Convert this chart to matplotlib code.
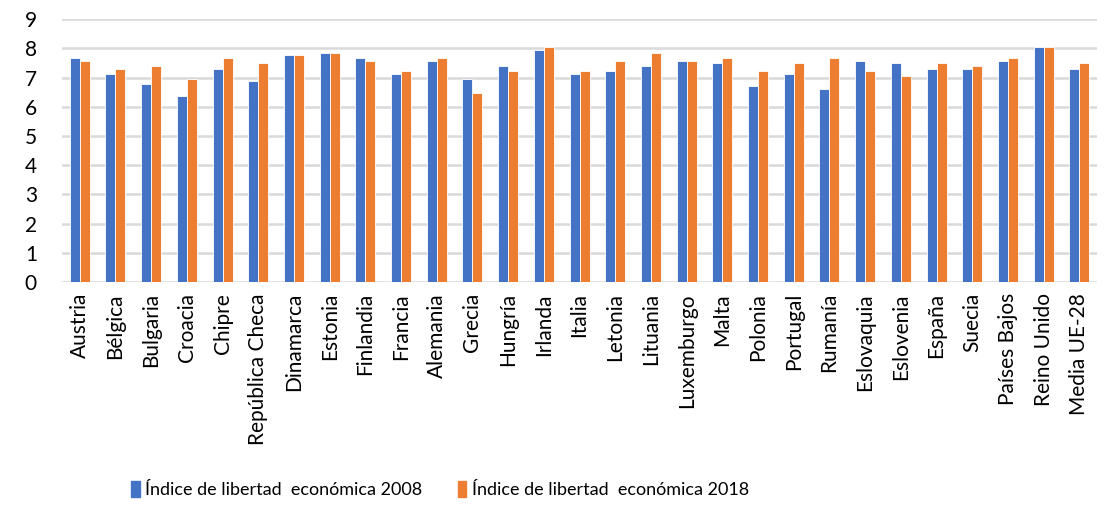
import numpy as np
import matplotlib.pyplot as plt
from matplotlib.patches import Patch

plt.rcParams['font.family'] = ['Lato', 'DejaVu Sans']

paises = ['Austria', 'Bélgica', 'Bulgaria', 'Croacia', 'Chipre', 'República Checa',
          'Dinamarca', 'Estonia', 'Finlandia', 'Francia', 'Alemania', 'Grecia',
          'Hungría', 'Irlanda', 'Italia', 'Letonia', 'Lituania', 'Luxemburgo',
          'Malta', 'Polonia', 'Portugal', 'Rumanía', 'Eslovaquia', 'Eslovenia',
          'España', 'Suecia', 'Países Bajos', 'Reino Unido', 'Media UE-28']
indice_2008 = [7.67, 7.13, 6.78, 6.37, 7.31, 6.87, 7.76, 7.85, 7.67, 7.13, 7.58, 6.95,
               7.40, 7.94, 7.13, 7.21, 7.40, 7.58, 7.49, 6.70, 7.13, 6.62, 7.58, 7.49,
               7.31, 7.31, 7.58, 8.04, 7.31]
indice_2018 = [7.58, 7.31, 7.40, 6.95, 7.67, 7.49, 7.76, 7.85, 7.58, 7.21, 7.67, 6.46,
               7.21, 8.04, 7.21, 7.58, 7.85, 7.58, 7.67, 7.21, 7.49, 7.67, 7.21, 7.04,
               7.49, 7.40, 7.67, 8.04, 7.49]
etiquetas = ['Índice de libertad  económica 2008', 'Índice de libertad  económica 2018']
azul = '#4472c4'
naranja = '#ed7d31'

fig = plt.figure(figsize=(11.06, 5.07), dpi=100)
ax = fig.add_axes([0.056, 0.444, 0.936, 0.518])

x = np.arange(len(paises))
w = 0.28
ax.bar(x - w / 2, indice_2008, w, color=azul, edgecolor='white', linewidth=0.6, zorder=3)
ax.bar(x + w / 2, indice_2018, w, color=naranja, edgecolor='white', linewidth=0.6, zorder=3)

ax.set_xlim(-0.5, len(paises) - 0.5)
ax.set_ylim(0, 9)
ax.set_yticks(range(10))
ax.yaxis.grid(True, color='#d9d9d9', linewidth=1.8, zorder=0)
ax.set_xticks(x)
ax.set_xticklabels(paises, rotation=90, fontsize=15)
ax.tick_params(axis='y', labelsize=15, length=0, pad=18)
ax.tick_params(axis='x', length=0, pad=8)
for s in ax.spines.values():
    s.set_visible(False)

handles = [Patch(color=azul), Patch(color=naranja)]
fig.legend(handles, etiquetas, loc='center', bbox_to_anchor=(0.398, 0.035), ncol=2,
           frameon=False, fontsize=13, handlelength=0.45, handleheight=1.0,
           handletextpad=0.3, columnspacing=2.0)

fig.savefig('out.png', dpi=100)
